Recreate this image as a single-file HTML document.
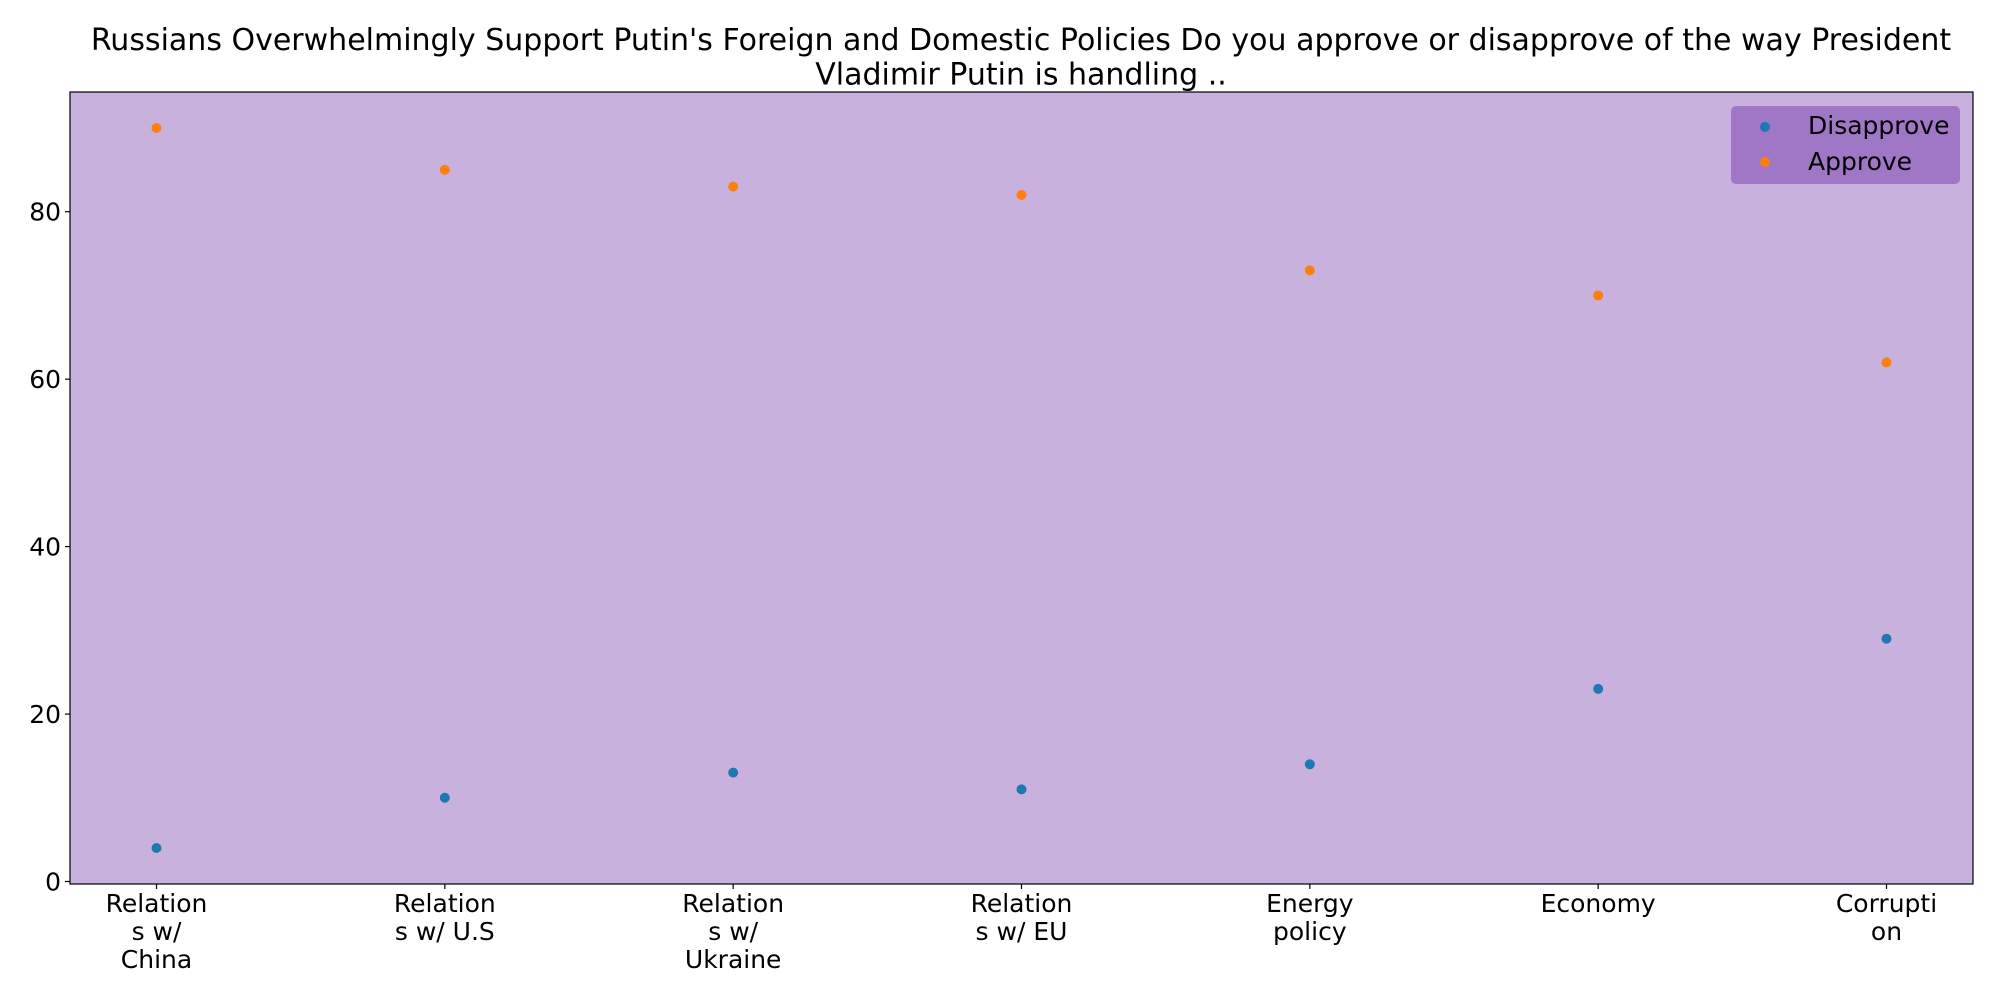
<!DOCTYPE html>
<html><head><meta charset="utf-8"><style>
body{margin:0;background:#fff;}
svg{display:block;font-family:"DejaVu Sans","Liberation Sans",sans-serif;}
</style></head><body>
<svg id="chart" width="2000" height="1000" xmlns="http://www.w3.org/2000/svg">
<text x="1021" y="50" font-size="30" text-anchor="middle">Russians Overwhelmingly Support Putin's Foreign and Domestic Policies Do you approve or disapprove of the way President</text>
<text x="1021" y="84.5" font-size="30" text-anchor="middle">Vladimir Putin is handling ..</text>
<rect x="70" y="92" width="1903" height="792" fill="#c9b1dd" stroke="#000" stroke-width="1.2"/>
<g id="axes"></g>
<g id="marks"></g>
<g>
<rect x="1731" y="106" width="229" height="78" rx="5" fill="#a077c6"/>
<circle cx="1765" cy="127" r="5" fill="#1f77b4"/>
<text x="1808" y="134" font-size="25">Disapprove</text>
<circle cx="1765" cy="162" r="5" fill="#ff7f0e"/>
<text x="1808" y="170" font-size="25">Approve</text>
</g>
</svg>
<script>
const categories = [["Relation","s w/","China"],["Relation","s w/ U.S"],["Relation","s w/","Ukraine"],["Relation","s w/ EU"],["Energy","policy"],["Economy"],["Corrupti","on"]];
const disapprove = [4,10,13,11,14,23,29];
const approve = [90,85,83,82,73,70,62];
const yTicks = [0,20,40,60,80];
const NS="http://www.w3.org/2000/svg";
const L=70,R=1973,T=92,B=884;
const xMin=-0.3,xMax=6.3,yMin=-0.3,yMax=94.3;
const xs=i=>L+(i-xMin)/(xMax-xMin)*(R-L);
const ys=v=>B-(v-yMin)/(yMax-yMin)*(B-T);
const axes=document.getElementById('axes'),marks=document.getElementById('marks');
function mk(tag,attrs,parent){const e=document.createElementNS(NS,tag);for(const k in attrs)e.setAttribute(k,attrs[k]);parent.appendChild(e);return e;}
yTicks.forEach(v=>{
  const l=mk('line',{x1:L-5,x2:L,y1:ys(v),y2:ys(v),stroke:'#000','stroke-width':1.2},axes);
  
  
  const t=mk('text',{x:L-9,y:ys(v)+9,'font-size':25,'text-anchor':'end'},axes);
  t.textContent=v;
  
  
});
categories.forEach((c,i)=>{
  const l=mk('line',{x1:xs(i),x2:xs(i),y1:B,y2:B+5,stroke:'#000','stroke-width':1.2},axes);
  
  
  const t=mk('text',{x:xs(i),y:912,'font-size':25,'text-anchor':'middle'},axes);
  
  
  c.forEach((line,j)=>{const s=mk('tspan',{x:xs(i),dy:j?28:0},t);s.textContent=line;});
});
disapprove.forEach((v,i)=>{
  const c=mk('circle',{cx:xs(i),cy:ys(v),r:5,fill:'#1f77b4'},marks);
  
  
});
approve.forEach((v,i)=>{
  const c=mk('circle',{cx:xs(i),cy:ys(v),r:5,fill:'#ff7f0e'},marks);
  
  
});
</script>
</body></html>
